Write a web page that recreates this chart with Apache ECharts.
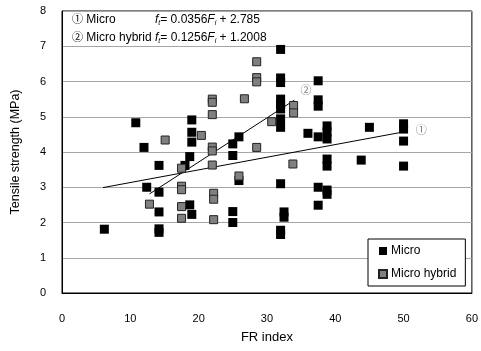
<!DOCTYPE html>
<html>
<head>
<meta charset="utf-8">
<script src="https://cdn.jsdelivr.net/npm/echarts@6/dist/echarts.min.js"></script>
<style>
html,body{margin:0;padding:0;background:#fff}
#chart{width:481px;height:351px}
</style>
</head>
<body>
<div id="chart"></div>
<script>
// data
var microPts = [
	[6.2,1.81],[10.8,4.83],[12.0,4.13],[12.4,3.0],
	[14.2,3.62],[14.2,2.86],[14.2,2.30],[14.2,1.82],[14.2,1.72],
	[18.0,3.62],[18.7,3.87],[18.7,2.50],[19.0,4.91],[19.0,4.56],[19.0,4.28],[19.0,2.23],
	[25.0,4.23],[25.0,3.90],[25.0,2.31],[25.0,2.00],[25.9,4.43],[25.9,3.19],
	[32.0,6.91],[32.0,6.10],[32.0,5.97],[32.0,5.50],[32.0,5.36],[32.0,5.22],[32.0,4.94],[32.0,4.70],
	[32.0,3.10],[32.5,2.30],[32.5,2.15],[32.0,1.78],[32.0,1.66],
	[36.0,4.53],[37.5,6.02],[37.5,5.48],[37.5,5.30],[37.5,4.43],[37.5,3.00],[37.5,2.49],
	[38.8,4.74],[38.8,4.57],[38.8,4.37],[38.8,3.80],[38.8,3.60],[38.8,2.92],[38.8,2.80],
	[43.8,3.77],[45.0,4.70],[50.0,4.80],[50.0,4.65],[50.0,4.31],[50.0,3.60]
];
var hybridPts = [
	[12.8,2.52],[15.1,4.34],[17.5,3.54],[17.5,3.03],[17.5,2.93],[17.5,2.45],[17.5,2.12],
	[20.4,4.47],[22.0,5.50],[22.0,5.41],[22.0,5.06],[22.0,4.14],[22.0,4.03],[22.0,3.63],
	[22.2,2.83],[22.2,2.66],[22.2,2.08],[25.9,3.32],[26.7,5.51],
	[28.5,6.56],[28.5,6.11],[28.5,5.99],[28.5,4.13],[30.7,4.86],
	[33.9,5.32],[33.9,5.11],[33.8,3.66]
];
// trend line end points
var microFit = [[6,2.99],[50,4.57]];
var hybridFit = [[12.8,2.81],[34,5.47]];
var fitTags = [[52.6,4.6,'①'],[35.7,5.73,'②']];
var xTicks = [0,10,20,30,40,50,60];

var font = '"Liberation Sans", Arial, "Noto Sans CJK SC", sans-serif';
var myChart = echarts.init(document.getElementById('chart'));

var option = {
	animation: false,
	backgroundColor: '#fff',
	textStyle: {fontFamily: font},
	grid: {left: 62, right: 6, top: 11, bottom: 58, show: true, borderColor: '#000', borderWidth: 1},
	xAxis: {
		type: 'value', min: xTicks[0], max: xTicks[xTicks.length - 1], interval: 10,
		name: 'FR index', nameLocation: 'middle', nameGap: 38,
		nameTextStyle: {color: '#000', fontSize: 13, fontFamily: font},
		axisLine: {show: true, lineStyle: {color: '#000', width: 1}},
		axisTick: {show: false},
		splitLine: {show: false},
		axisLabel: {color: '#000', fontSize: 11, margin: 20, fontFamily: font}
	},
	yAxis: {
		type: 'value', min: 0, max: 8, interval: 1,
		name: 'Tensile strength (MPa)', nameLocation: 'middle', nameGap: 40,
		nameTextStyle: {color: '#000', fontSize: 12.5, fontFamily: font},
		axisLine: {show: true, lineStyle: {color: '#000', width: 1}},
		axisTick: {show: false},
		splitLine: {show: true, lineStyle: {color: '#a6a6a6', width: 1}},
		axisLabel: {color: '#000', fontSize: 11, margin: 16, fontFamily: font}
	},
	legend: {
		data: ['Micro', 'Micro hybrid'],
		orient: 'vertical', left: 368, top: 239,
		padding: [6, 9, 6, 10],
		backgroundColor: '#fff', borderColor: '#000', borderWidth: 1,
		itemWidth: 8, itemHeight: 8, itemGap: 11,
		textStyle: {color: '#000', fontSize: 12, fontFamily: font, padding: [0, 0, 0, -1]}
	},
	graphic: [{
		type: 'text', left: 72, top: 14, z: 10,
		style: {
			text: '{c|①} Micro',
			font: '12px ' + font, fill: '#000',
			rich: {c: {fontSize: 11, fontFamily: font}}
		}
	}, {
		type: 'text', left: 155, top: 14, z: 10,
		style: {
			text: '{i|f}{s|t}= 0.0356{i|F}{s|i} + 2.785',
			font: '12px ' + font, fill: '#000',
			rich: {
				i: {fontStyle: 'italic', fontSize: 12, fontFamily: font},
				s: {fontStyle: 'italic', fontSize: 7, fontFamily: font, verticalAlign: 'bottom', padding: [6, 0, 0, 0]}
			}
		}
	}, {
		type: 'text', left: 72, top: 32, z: 10,
		style: {
			text: '{c|②} Micro hybrid {i|f}{s|t}= 0.1256{i|F}{s|i} + 1.2008',
			font: '12px ' + font, fill: '#000',
			rich: {
				c: {fontSize: 11, fontFamily: font},
				i: {fontStyle: 'italic', fontSize: 12, fontFamily: font},
				s: {fontStyle: 'italic', fontSize: 7, fontFamily: font, verticalAlign: 'bottom', padding: [6, 0, 0, 0]}
			}
		}
	}],
	series: [{
		name: 'Micro fit', type: 'line', data: microFit,
		symbol: 'none', silent: true, z: 3,
		lineStyle: {color: '#000', width: 1}
	}, {
		name: 'Hybrid fit', type: 'line', data: hybridFit,
		symbol: 'none', silent: true, z: 3,
		lineStyle: {color: '#000', width: 1}
	}, {
		name: 'Micro', type: 'scatter', data: microPts,
		symbol: 'rect', symbolSize: 9, z: 4,
		itemStyle: {color: '#000', borderWidth: 0, opacity: 1}
	}, {
		name: 'Micro hybrid', type: 'scatter', data: hybridPts,
		symbol: 'rect', symbolSize: 8, z: 5,
		itemStyle: {color: '#808080', borderColor: '#222', borderWidth: 1, opacity: 1}
	}, {
		name: 'tags', type: 'scatter', data: fitTags,
		symbolSize: 0, silent: true,
		label: {
			show: true, position: 'inside', color: '#555', fontSize: 11,
			fontFamily: font,
			formatter: function(p) { return p.value[2]; }
		}
	}]
};
myChart.setOption(option);
</script>
</body>
</html>
